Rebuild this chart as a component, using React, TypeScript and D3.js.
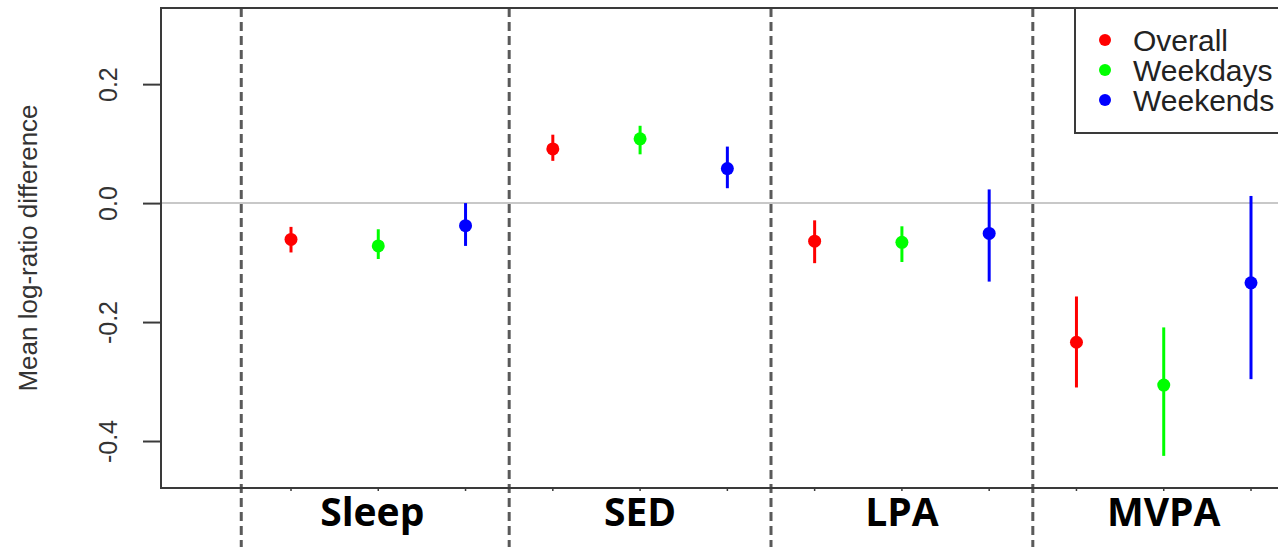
import React, { useEffect, useRef } from "react";
import * as d3 from "d3";

// groups along the x axis
const categories = ["Sleep", "SED", "LPA", "MVPA"];

// series shown inside each group
const seriesNames = ["Overall", "Weekdays", "Weekends"];
const seriesColors = ["#ff0000", "#00ff00", "#0000ff"];

// mean log-ratio difference, one row per series, one column per category
const meanValues = [
  [-0.061, 0.091, -0.064, -0.234],
  [-0.072, 0.108, -0.066, -0.306],
  [-0.038, 0.058, -0.051, -0.134],
];

// lower end of the interval
const lowerValues = [
  [-0.083, 0.071, -0.101, -0.31],
  [-0.094, 0.082, -0.099, -0.425],
  [-0.072, 0.025, -0.132, -0.296],
];

// upper end of the interval
const upperValues = [
  [-0.04, 0.115, -0.029, -0.157],
  [-0.044, 0.13, -0.039, -0.209],
  [0.0, 0.095, 0.023, 0.012],
];

const yTicks = [-0.4, -0.2, 0.0, 0.2];

const App = () => {
  const dimensions = { width: 1278, height: 547 };
  const plot = { left: 161, top: 8, bottom: 488, right: 1300 };

  // define scales
  const scales = {
    x: d3.scaleLinear().domain([0, 11]).range([291, 1251]),
    y: d3.scaleLinear().domain([-0.479, 0.328]).range([plot.bottom, plot.top]),
  };

  const yAxisRef = useRef<SVGGElement>(null);

  const points = seriesNames.flatMap((name, s) =>
    categories.map((cat, c) => ({
      key: `${name}-${cat}`,
      idx: c * 3 + s,
      mean: meanValues[s][c],
      lo: lowerValues[s][c],
      hi: upperValues[s][c],
      color: seriesColors[s],
    }))
  );

  // group separators sit halfway between the groups
  const dividers = categories.map((_, c) => (c === 0 ? -0.57 : c * 3 - 0.5));

  useEffect(() => {
    const g = d3.select(yAxisRef.current);
    g.call(
      d3
        .axisLeft(scales.y)
        .tickValues(yTicks)
        .tickSize(18)
        .tickFormat((d: number) => d.toFixed(1))
    );
    g.select(".domain").remove();
    g.selectAll(".tick line").attr("stroke", "#3a3a3a").attr("stroke-width", 2);
    g.selectAll(".tick text")
      .attr("x", 0)
      .attr("dy", 0)
      .attr("transform", "translate(-44,0) rotate(-90)")
      .attr("text-anchor", "middle")
      .attr("fill", "#333")
      .style("font-family", "'Liberation Sans', Arial, sans-serif")
      .style("font-size", "25px");
  }, []);

  return (
    <svg
      width={dimensions.width}
      height={dimensions.height}
      style={{ position: "absolute", left: 0, top: 0, background: "#fff" }}
    >
      {/* zero reference line */}
      <line
        x1={plot.left}
        x2={plot.right}
        y1={scales.y(0)}
        y2={scales.y(0)}
        stroke="#c8c8c8"
        strokeWidth={2}
      />

      {/* group separators */}
      {dividers.map((d, i) => (
        <line
          key={`div-${i}`}
          x1={scales.x(d)}
          x2={scales.x(d)}
          y1={plot.top}
          y2={dimensions.height}
          stroke="#5a5a5a"
          strokeWidth={3}
          strokeDasharray="9,5"
        />
      ))}

      {/* plot frame */}
      <path
        d={`M${plot.right},${plot.top}H${plot.left}V${plot.bottom}H${plot.right}`}
        fill="none"
        stroke="#3a3a3a"
        strokeWidth={2}
      />

      {/* small x ticks */}
      {points.map((p) => (
        <line
          key={`xt-${p.key}`}
          x1={scales.x(p.idx)}
          x2={scales.x(p.idx)}
          y1={plot.bottom}
          y2={plot.bottom + 3}
          stroke="#3a3a3a"
          strokeWidth={1.5}
        />
      ))}

      {/* intervals and means */}
      {points.map((p) => (
        <g key={p.key}>
          <line
            x1={scales.x(p.idx)}
            x2={scales.x(p.idx)}
            y1={scales.y(p.lo)}
            y2={scales.y(p.hi)}
            stroke={p.color}
            strokeWidth={3}
          />
          <circle cx={scales.x(p.idx)} cy={scales.y(p.mean)} r={6.5} fill={p.color} />
        </g>
      ))}

      {/* category labels */}
      {categories.map((c, i) => (
        <text
          key={c}
          x={scales.x(i * 3 + 1) - (i === 0 ? 6 : 0)}
          y={526}
          textAnchor="middle"
          fontFamily="'Open Sans', sans-serif"
          fontWeight="bold"
          fontSize={39}
          fill="#000"
        >
          {c}
        </text>
      ))}

      {/* y axis */}
      <g ref={yAxisRef} transform={`translate(${plot.left},0)`} />
      <text
        transform={`translate(37,${(plot.top + plot.bottom) / 2}) rotate(-90)`}
        textAnchor="middle"
        fontFamily="'Liberation Sans', Arial, sans-serif"
        fontSize={26}
        fill="#333"
      >
        Mean log-ratio difference
      </text>

      {/* legend */}
      <g transform="translate(1075,8)">
        <rect x={0} y={0} width={260} height={125} fill="#fff" stroke="#3a3a3a" strokeWidth={2} />
        {seriesNames.map((s, i) => (
          <g key={s} transform={`translate(0,${32 + i * 30})`}>
            <circle cx={30} cy={0} r={6} fill={seriesColors[i]} />
            <text
              x={58}
              y={0}
              dy="0.35em"
              fontFamily="'Liberation Sans', Arial, sans-serif"
              fontSize={30}
              fill="#222"
            >
              {s}
            </text>
          </g>
        ))}
      </g>
    </svg>
  );
};

export default App;
